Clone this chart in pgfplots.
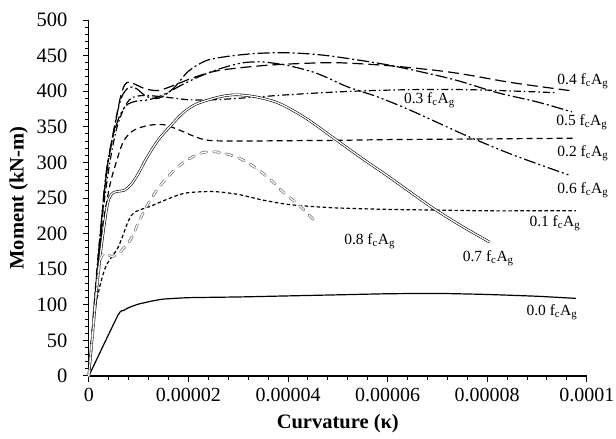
\documentclass[border=0pt]{standalone}
\usepackage{pgfplots}
\pgfplotsset{compat=1.18}
\usepackage{fontspec}
\setmainfont{Liberation Serif}

\newcommand{\fa}[1]{#1 f\textsubscript{c}A\textsubscript{g}}

\begin{document}
\begin{tikzpicture}
\path[use as bounding box] (-88.8pt,-63pt) rectangle (527.2pt,376pt);
\begin{axis}[
  at={(0,0)}, anchor=origin,
  scale only axis, width=498pt, height=356pt,
  xmin=0, xmax=10, ymin=0, ymax=500,
  axis lines=left, axis line style={-, line width=1.2pt},
  tick align=outside, tick style={black, line width=1pt},
  major tick length=6pt, minor tick length=4pt,
  xtick={0,2,4,6,8,10},
  xticklabels={0,0.00002,0.00004,0.00006,0.00008,0.0001},
  minor x tick num=4,
  ytick={0,50,...,500}, minor y tick num=4,
  /pgf/number format/assume math mode=true,
  ticklabel style={font=\fontsize{20.5}{20.5}\selectfont},
  yticklabel style={xshift=-12pt},
  xticklabel style={yshift=-3pt, font=\fontsize{20}{20}\selectfont},
  xlabel={\textbf{Curvature (κ)}}, ylabel={\textbf{Moment (kN-m)}},
  label style={font=\fontsize{20.5}{20.5}\selectfont},
  xlabel style={at={(axis description cs:0.5,0)}, anchor=center, yshift=-48pt},
  ylabel style={at={(axis description cs:0,0.5)}, anchor=center, rotate=0, yshift=70pt},
  every axis plot/.append style={line width=1.2pt, black},
  clip=false,
]
% 0.0
\addplot[solid, smooth, tension=0.3] coordinates {
(0,0)(0.59,86)(0.7,92)(0.8,96)(1.0,101)(1.25,105)(1.5,108)(2,110)(3,111)(4,112.5)(5,114)(6,115.5)(7,116)(8,114.5)(9,112)(9.78,109)};
% 0.1
\addplot[smooth, tension=0.5, dash pattern=on 3.5pt off 2.5pt] coordinates {
(0,0)(0.12,90)(0.32,150)(0.59,181)(0.79,217)(0.92,230)(1.26,239)(1.6,249)(1.95,257)(2.5,259)(3.0,255)(3.5,247)(4.0,241)(4.5,238)(5,236)(6,234)(7,233)(8,232)(9,232)(9.78,232)};
% 0.2
\addplot[smooth, tension=0.5, dash pattern=on 6pt off 4pt] coordinates {
(0,0)(0.2,170)(0.4,260)(0.55,300)(0.7,330)(0.9,345)(1.2,352)(1.5,353)(1.8,346)(2.1,337)(2.4,331)(3,330)(4,330.5)(5,331)(6,332)(7,332.5)(8,333)(9.78,334)};
% 0.3
\addplot[smooth, tension=0.5, dash pattern=on 7pt off 3pt on 1.5pt off 3pt] coordinates {
(0,0)(0.2,180)(0.4,290)(0.55,345)(0.7,375)(0.85,390)(1.1,394)(1.5,392)(2.0,388)(2.5,388)(3,390)(4,395)(5,399)(6,401.5)(7,402.5)(8,401.5)(9.35,398)};
% 0.4
\addplot[smooth, tension=0.5, dash pattern=on 11pt off 5pt] coordinates {
(0,0)(0.28,233)(0.39,303)(0.52,350)(0.63,390)(0.72,409)(0.82,413)(0.95,409)(1.15,403)(1.4,401)(1.7,408)(2.1,419)(2.6,429)(3.5,436)(4.3,439)(5,440)(6,436)(7,429)(7.6,423)(8.5,412)(9.75,400)};
% 0.5
\addplot[smooth, tension=0.5, dash pattern=on 12pt off 3pt on 2pt off 3pt] coordinates {
(0,0)(0.3,250)(0.5,345)(0.65,390)(0.8,405)(0.95,404)(1.15,393)(1.4,390)(1.7,404)(2.0,428)(2.36,443)(2.8,449)(3.36,453)(3.96,454)(4.5,452)(5,448)(6,437)(7,422)(7.5,413)(8.2,398)(9,385)(9.7,371)};
% 0.6
\addplot[smooth, tension=0.5, dash pattern=on 12pt off 3pt on 2pt off 3pt on 2pt off 3pt] coordinates {
(0,0)(0.3,255)(0.45,325)(0.6,362)(0.75,380)(0.95,386)(1.2,388)(1.5,395)(1.9,410)(2.3,423)(2.7,433)(3.1,440)(3.5,441)(4.0,436)(4.5,427)(4.82,418)(5.2,406)(5.8,392)(6.4,375)(7,356)(7.6,337)(8.5,311)(9.65,282)};
% 0.7
\addplot[smooth, tension=0.5, line width=0.6pt, double=white, double distance=1.3pt] coordinates {
(0,0)(0.2,150)(0.36,235)(0.45,255)(0.56,259)(0.72,261)(0.85,269)(1.0,285)(1.16,306)(1.4,332)(1.69,355)(1.9,370)(2.16,382)(2.62,392)(2.96,395)(3.36,392)(3.82,383)(4.36,362)(5,330)(5.5,305)(6,281)(6.5,256)(6.95,234)(7.5,210)(8.05,188)};
% 0.8
\addplot[smooth, tension=0.5, draw=gray!85!black, line width=0.7pt, double=white, double distance=1.3pt, line cap=round, dash pattern=on 6pt off 7pt] coordinates {
(0,0)(0.2,150)(0.32,172)(0.45,168)(0.6,172)(0.85,193)(1.0,216)(1.2,243)(1.42,266)(1.66,285)(1.92,301)(2.25,313)(2.5,315)(2.7,313)(3.02,306)(3.36,292)(3.66,275)(3.92,257)(4.22,240)(4.55,217)};

\begin{scope}[every node/.style={font=\fontsize{15.5}{15.5}\selectfont, inner sep=0pt}]
\node at (axis cs:9.92,414) {\fa{0.4}};
\node at (axis cs:6.84,387) {\fa{0.3}};
\node at (axis cs:9.9,356) {\fa{0.5}};
\node at (axis cs:9.92,313) {\fa{0.2}};
\node at (axis cs:9.92,261) {\fa{0.6}};
\node at (axis cs:9.36,214) {\fa{0.1}};
\node at (axis cs:8.02,165) {\fa{0.7}};
\node at (axis cs:5.64,189) {\fa{0.8}};
\node at (axis cs:9.3,89) {\fa{0.0}};
\end{scope}
\end{axis}
\end{tikzpicture}
\end{document}
